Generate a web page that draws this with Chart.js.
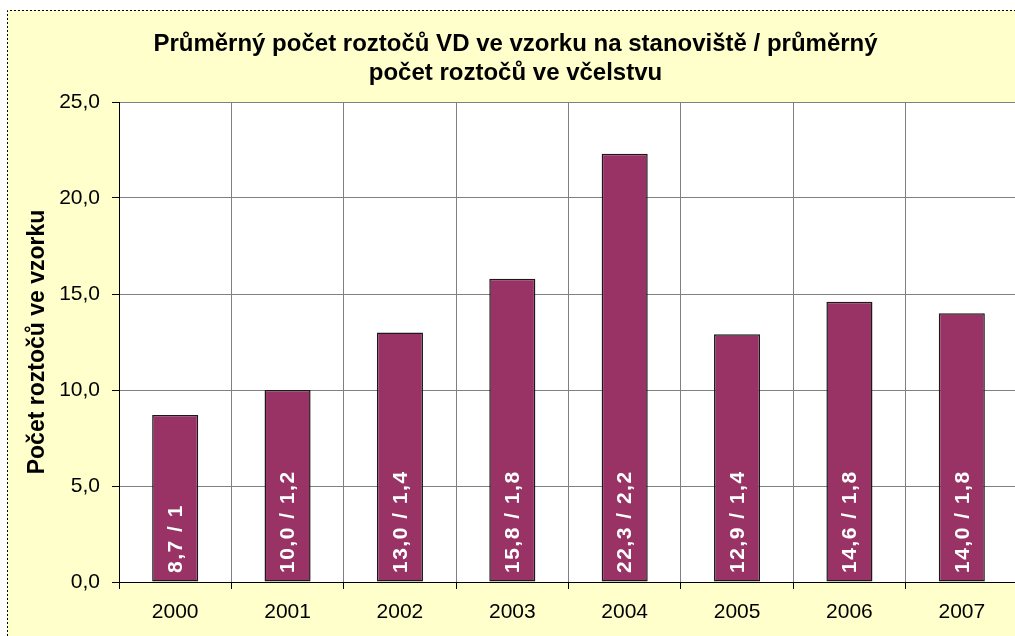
<!DOCTYPE html>
<html><head><meta charset="utf-8">
<script src="https://cdn.jsdelivr.net/npm/chart.js@4/dist/chart.umd.min.js"></script>
<style>html,body{margin:0;padding:0;overflow:hidden;background:#fff}
#wrap{position:absolute;left:0;top:0;width:1030px;height:640px}</style>
</head><body><div id="wrap"><canvas id="c" width="1030" height="640"></canvas></div>
<script>
const categories = ['2000','2001','2002','2003','2004','2005','2006','2007'];
const sampleMites = [8.7, 10.0, 13.0, 15.8, 22.3, 12.9, 14.6, 14.0];
const colonyMites = ['1', '1,2', '1,4', '1,8', '2,2', '1,4', '1,8', '1,8'];
const yTickLabels = ['0,0', '5,0', '10,0', '15,0', '20,0', '25,0'];
const titleLines = ['Průměrný počet roztočů VD ve vzorku na stanoviště / průměrný', 'počet roztočů ve včelstvu'];
const yTitle = 'Počet roztočů ve vzorku';

const FAM = '"Liberation Sans", Arial, sans-serif';
Chart.defaults.font.family = FAM;
Chart.defaults.color = '#000';

const barLabels = sampleMites.map((v, i) => v.toFixed(1).replace('.', ',') + ' / ' + colonyMites[i]);

const bgPlugin = {
  id: 'bg',
  beforeDraw(chart) {
    const ctx = chart.ctx, a = chart.chartArea;
    ctx.save();
    ctx.fillStyle = '#fff';
    ctx.fillRect(0, 0, chart.width, chart.height);
    ctx.fillStyle = '#FFFFCC';
    ctx.fillRect(7, 10, chart.width, chart.height);
    ctx.strokeStyle = '#000';
    ctx.lineWidth = 1;
    ctx.setLineDash([2, 2]);
    ctx.beginPath();
    ctx.moveTo(7.5, chart.height);
    ctx.lineTo(7.5, 10.5);
    ctx.lineTo(chart.width, 10.5);
    ctx.stroke();
    ctx.setLineDash([]);
    ctx.fillStyle = '#fff';
    ctx.fillRect(a.left, a.top, a.right - a.left, a.bottom - a.top);
    ctx.restore();
  }
};

const labelPlugin = {
  id: 'barLabels',
  afterDatasetsDraw(chart) {
    const ctx = chart.ctx;
    const meta = chart.getDatasetMeta(0);
    const base = chart.scales.y.getPixelForValue(0);
    ctx.save();
    ctx.fillStyle = '#fff';
    ctx.font = 'bold 21px ' + FAM;
    ctx.letterSpacing = '1.5px';
    ctx.textAlign = 'left';
    ctx.textBaseline = 'middle';
    meta.data.forEach((bar, i) => {
      ctx.save();
      ctx.translate(bar.x + 1, base - 9);
      ctx.rotate(-Math.PI / 2);
      ctx.fillText(barLabels[i], 0, 0);
      ctx.restore();
    });
    ctx.restore();
  }
};

new Chart(document.getElementById('c'), {
  type: 'bar',
  data: {
    labels: categories,
    datasets: [{
      data: sampleMites,
      backgroundColor: '#993366',
      borderColor: '#1a1a1a',
      borderWidth: 1.5,
      borderSkipped: false,
      barPercentage: 0.41,
      categoryPercentage: 1
    }]
  },
  options: {
    responsive: false,
    animation: false,
    events: [],
    layout: { padding: { left: 13, right: 12, top: 0, bottom: 0 } },
    plugins: {
      legend: { display: false },
      tooltip: { enabled: false },
      title: {
        display: true,
        text: titleLines,
        color: '#000',
        font: { size: 24, weight: 'bold', lineHeight: 29 / 24 },
        padding: { top: 30, bottom: 14 }
      }
    },
    scales: {
      x: {
        ticks: { color: '#000', font: { size: 21 }, padding: 11, maxRotation: 0, autoSkip: false },
        grid: { color: '#808080', tickColor: '#000', tickLength: 7, offset: true, lineWidth: 1 },
        border: { color: '#000', width: 1 },
        afterFit(s) { s.height = 58; }
      },
      y: {
        min: 0, max: 25,
        ticks: { stepSize: 5, color: '#000', font: { size: 21 }, padding: 12,
                 callback: (v, i) => yTickLabels[i] },
        grid: { color: '#808080', tickColor: '#000', tickLength: 7, lineWidth: 1 },
        border: { color: '#000', width: 1 },
        title: { display: true, text: yTitle, color: '#000', font: { size: 23, weight: 'bold' }, padding: { top: 11, bottom: 0 } },
        afterFit(s) { s.width = 106; }
      }
    }
  },
  plugins: [bgPlugin, labelPlugin]
});
</script>
</body></html>
